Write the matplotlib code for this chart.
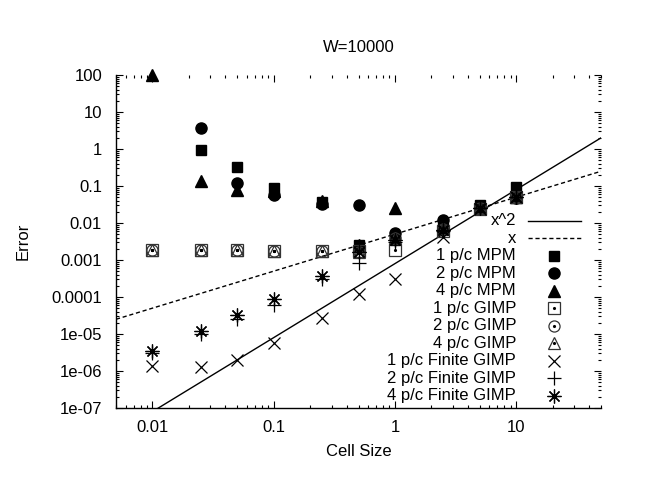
import numpy as np
import matplotlib
matplotlib.use("Agg")
import matplotlib.pyplot as plt
from matplotlib.lines import Line2D
from matplotlib.ticker import LogLocator, FixedLocator, FixedFormatter, NullFormatter

plt.rcParams['font.family'] = ['Liberation Sans', 'DejaVu Sans']
plt.rcParams['font.size'] = 12

nan = np.nan
cell = [0.01, 0.025, 0.05, 0.1, 0.25, 0.5, 1, 2.5, 5, 10]

mpm1 = [nan, 0.95, 0.33, 0.09, 0.036, 0.0026, 0.0035, 0.0072, 0.031, 0.096]
mpm2 = [nan, 3.7, 0.123, 0.058, 0.033, 0.031, 0.0055, 0.0124, 0.028, 0.046]
mpm4 = [100, 0.14, 0.08, 0.075, 0.04, 0.0026, 0.026, 0.009, 0.027, 0.05]

gimp1 = [0.0019, 0.0019, 0.0019, 0.0018, 0.0017, 0.0017, 0.0019, 0.006, 0.024, 0.05]
gimp2 = [0.0019, 0.0019, 0.0019, 0.0018, 0.0017, 0.0016, 0.004, 0.007, 0.025, 0.05]
gimp4 = [0.0019, 0.0019, 0.0019, 0.0018, 0.0017, 0.0016, 0.004, 0.007, 0.025, 0.05]

fin1 = [1.4e-6, 1.3e-6, 2.0e-6, 5.6e-6, 2.65e-5, 1.2e-4, 3.0e-4, 0.0042, 0.024, 0.05]
fin2 = [3.0e-6, 1.0e-5, 2.6e-5, 6.0e-5, 3.0e-4, 8.5e-4, 0.003, 0.006, 0.025, 0.05]
fin4 = [3.5e-6, 1.2e-5, 3.2e-5, 8.6e-5, 3.7e-4, 0.0016, 0.0035, 0.0065, 0.026, 0.05]

coef_sq = 8e-4
coef_lin = 5e-3
x_range = [0.005, 50]

xticks = [0.01, 0.1, 1, 10]
xtick_labels = ["0.01", "0.1", "1", "10"]
yticks = [1e-7, 1e-6, 1e-5, 1e-4, 1e-3, 1e-2, 1e-1, 1, 10, 100]
ytick_labels = ["1e-07", "1e-06", "1e-05", "0.0001", "0.001", "0.01", "0.1", "1", "10", "100"]

labels = ["x^2", "x", "1 p/c MPM", "2 p/c MPM", "4 p/c MPM",
          "1 p/c GIMP", "2 p/c GIMP", "4 p/c GIMP",
          "1 p/c Finite GIMP", "2 p/c Finite GIMP", "4 p/c Finite GIMP"]

fig = plt.figure(figsize=(6.66, 4.83), dpi=100)
ax = fig.add_axes([116/666, 1 - 408/483, 485/666, 333/483])
ax.set_xscale('log')
ax.set_yscale('log')
ax.set_xlim(x_range)
ax.set_ylim(1e-7, 100)

xs = np.logspace(np.log10(x_range[0]), np.log10(x_range[1]), 200)
ax.plot(xs, coef_sq * xs**2, color='black', lw=1.0)
ax.plot(xs, coef_lin * xs, color='black', lw=1.0, ls=(0, (3, 2)))

open_style = dict(mfc='none', mec='#333333', mew=0.9)
dot_style = dict(marker='.', ms=2.5, color='black', ls='none')
series = [
    (mpm1, dict(marker='s', ms=7.5, color='black')),
    (mpm2, dict(marker='o', ms=8, color='black')),
    (mpm4, dict(marker='^', ms=8, color='black')),
    (gimp1, dict(marker='s', ms=8, **open_style)),
    (gimp2, dict(marker='o', ms=8, **open_style)),
    (gimp4, dict(marker='^', ms=8.5, **open_style)),
    (fin1, dict(marker='x', ms=8.5, color='black', mew=0.9)),
    (fin2, dict(marker='+', ms=10, color='black', mew=0.9)),
    (fin4, dict(marker=(8, 2, 0), ms=10, color='black', mew=0.9)),
]
for vals, st in series:
    ax.plot(cell, vals, ls='none', clip_on=False, **st)
    if st.get('mfc') == 'none':
        ax.plot(cell, vals, clip_on=False, **dot_style)

# manual gnuplot-style legend (right-justified text, sample to the right)
row0 = (408 - 220.7) / 333
drow = 17.5 / 333
tx = 0.825
lx0, lx1, mx = 0.849, 0.959, 0.904
for i, lab in enumerate(labels):
    y = row0 - i * drow
    ax.text(tx, y, lab, transform=ax.transAxes, ha='right', va='center', fontsize=12)
    if i == 0:
        ax.add_line(Line2D([lx0, lx1], [y, y], transform=ax.transAxes, color='black', lw=1.0))
    elif i == 1:
        ax.add_line(Line2D([lx0, lx1], [y, y], transform=ax.transAxes, color='black', lw=1.0, ls=(0, (3, 2))))
    else:
        st = series[i - 2][1]
        ax.add_line(Line2D([mx], [y], transform=ax.transAxes, ls='none', **st))
        if st.get('mfc') == 'none':
            ax.add_line(Line2D([mx], [y], transform=ax.transAxes, **dot_style))

ax.spines['top'].set_visible(False)
ax.spines['right'].set_visible(False)
for s in ['left', 'bottom']:
    ax.spines[s].set_linewidth(1.0)

ax.xaxis.set_major_locator(FixedLocator(xticks))
ax.xaxis.set_major_formatter(FixedFormatter(xtick_labels))
ax.yaxis.set_major_locator(FixedLocator(yticks))
ax.yaxis.set_major_formatter(FixedFormatter(ytick_labels))
ax.xaxis.set_minor_locator(LogLocator(base=10, subs=np.arange(2, 10), numticks=20))
ax.yaxis.set_minor_locator(LogLocator(base=10, subs=np.arange(2, 10), numticks=20))
ax.xaxis.set_minor_formatter(NullFormatter())
ax.yaxis.set_minor_formatter(NullFormatter())
ax.tick_params(which='both', direction='in', top=True, right=True, color='black', width=0.8)
ax.tick_params(which='major', length=5)
ax.tick_params(which='minor', length=2.5)
ax.tick_params(axis='x', which='major', pad=9, labelsize=12)
ax.tick_params(axis='y', which='major', pad=10, labelsize=12)

fig.text(358.5/666, 1 - 47/483, "W=10000", ha='center', va='center', fontsize=12)
fig.text(358.5/666, 1 - 451.7/483, "Cell Size", ha='center', va='center', fontsize=12)
fig.text(23.5/666, 1 - 241.5/483, "Error", ha='center', va='center', rotation=90, fontsize=12)

fig.savefig("out.png", dpi=100)
